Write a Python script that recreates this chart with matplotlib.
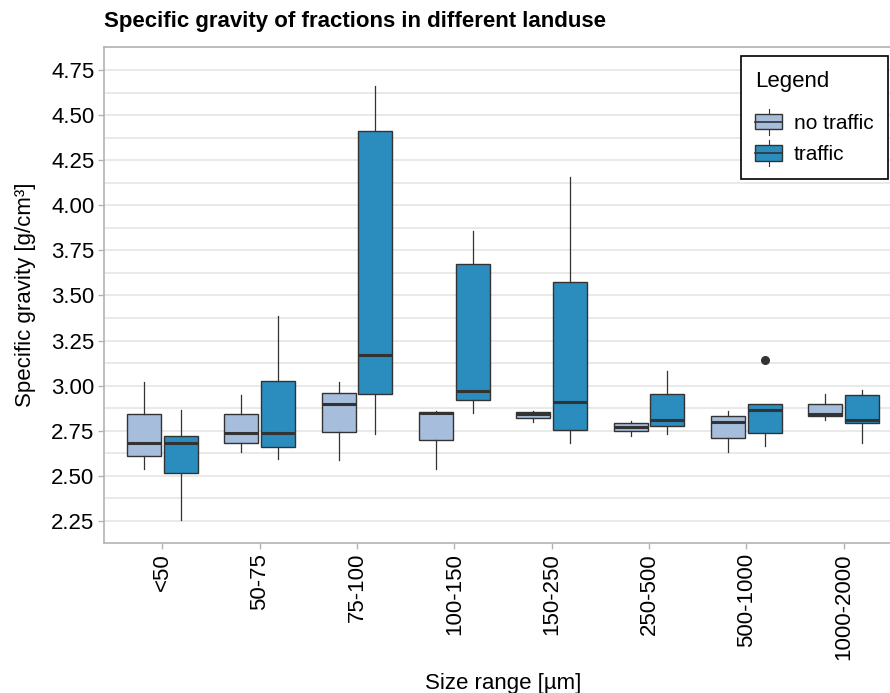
import matplotlib
matplotlib.use("Agg")
import matplotlib.pyplot as plt
from matplotlib.legend_handler import HandlerBase
from matplotlib.patches import Rectangle
from matplotlib.lines import Line2D
import numpy as np

plt.rcParams['font.family'] = ['Liberation Sans', 'DejaVu Sans']

sizes = ["<50", "50-75", "75-100", "100-150", "150-250", "250-500", "500-1000", "1000-2000"]
groups = ["no traffic", "traffic"]
colors = {"no traffic": "#a6bddb", "traffic": "#2b8cbe"}

# whisker low, Q1, median, Q3, whisker high
no_traffic = [
    [2.54, 2.61, 2.68, 2.845, 3.02],
    [2.63, 2.68, 2.735, 2.845, 2.95],
    [2.59, 2.745, 2.90, 2.96, 3.02],
    [2.54, 2.70, 2.847, 2.855, 2.86],
    [2.80, 2.823, 2.843, 2.856, 2.86],
    [2.72, 2.75, 2.768, 2.792, 2.805],
    [2.63, 2.712, 2.80, 2.83, 2.86],
    [2.808, 2.829, 2.845, 2.901, 2.953],
]
traffic = [
    [2.257, 2.515, 2.68, 2.72, 2.867],
    [2.596, 2.659, 2.736, 3.027, 3.387],
    [2.731, 2.956, 3.171, 4.411, 4.663],
    [2.847, 2.919, 2.973, 3.674, 3.858],
    [2.683, 2.753, 2.912, 3.577, 4.158],
    [2.731, 2.775, 2.808, 2.956, 3.082],
    [2.666, 2.735, 2.864, 2.901, 2.901],
    [2.683, 2.792, 2.808, 2.947, 2.977],
]
traffic_outliers = {6: [3.143]}


def make_stats(rows, outliers):
    stats = []
    for i, r in enumerate(rows):
        stats.append(dict(whislo=r[0], q1=r[1], med=r[2], q3=r[3], whishi=r[4],
                          fliers=outliers.get(i, [])))
    return stats


class BoxHandler(HandlerBase):
    # little boxplot glyph for the legend keys
    def create_artists(self, legend, orig_handle, xdescent, ydescent,
                       width, height, fontsize, trans):
        x0 = xdescent
        cx = x0 + width / 2
        y0 = -ydescent
        rect = Rectangle((x0, y0 + height * 0.0), width, height * 1.0,
                         facecolor=orig_handle.get_facecolor(),
                         edgecolor="#333333", lw=1.0, transform=trans)
        med = Line2D([x0, x0 + width], [y0 + height * 0.5] * 2, color="#333333",
                     lw=1.2, transform=trans)
        wh1 = Line2D([cx, cx], [y0 + height * 1.0, y0 + height * 1.35],
                     color="#333333", lw=0.8, transform=trans)
        wh2 = Line2D([cx, cx], [y0, y0 - height * 0.35],
                     color="#333333", lw=0.8, transform=trans)
        return [wh1, wh2, rect, med]


fig = plt.figure(figsize=(8.9, 6.93), dpi=100)
ax = fig.add_axes([104 / 890, 1 - 543.3 / 693, (902 - 104) / 890, (543.3 - 46.7) / 693])

x = np.arange(1, len(sizes) + 1)
box_w = 0.35
offset = 0.1875
for g, rows, outl, sign in [("no traffic", no_traffic, {}, -1), ("traffic", traffic, traffic_outliers, 1)]:
    ax.bxp(make_stats(rows, outl), positions=x + sign * offset, widths=box_w,
           patch_artist=True, showcaps=False, manage_ticks=False,
           boxprops=dict(facecolor=colors[g], edgecolor="#333333", lw=1.0),
           medianprops=dict(color="#333333", lw=2.2, solid_capstyle="butt"),
           whiskerprops=dict(color="#333333", lw=0.9),
           flierprops=dict(marker="o", markerfacecolor="#333333",
                           markeredgecolor="#333333", markersize=5.5))

ax.set_xlim(0.4, 8.6)
ax.set_ylim(2.126, 4.879)
ax.set_xticks(x)
ax.set_xticklabels(sizes, rotation=90, fontsize=16)
ax.set_yticks(np.arange(2.25, 4.76, 0.25))
ax.set_yticklabels([f"{v:.2f}" for v in np.arange(2.25, 4.76, 0.25)], fontsize=16)
ax.set_yticks(np.arange(2.375, 4.876, 0.25), minor=True)
ax.tick_params(axis="y", which="minor", length=0)
ax.tick_params(which="major", length=4, color="#b3b3b3", width=1, pad=3, labelcolor="black")
ax.grid(True, axis="y", which="both", color="#e3e3e3", lw=1.1)
ax.set_axisbelow(True)
for s in ax.spines.values():
    s.set_color("#b3b3b3")
    s.set_linewidth(1.2)

ax.set_xlabel("Size range [µm]", fontsize=16, labelpad=10)
ax.set_ylabel("Specific gravity [g/cm³]", fontsize=16, labelpad=11)
fig.text(104 / 890, 1 - 22 / 693, "Specific gravity of fractions in different landuse",
         fontsize=16, fontweight="bold", va="center", ha="left")

handles = [Rectangle((0, 0), 1, 1, facecolor=colors[g]) for g in groups]
leg = ax.legend(handles, groups, title="Legend", handler_map={Rectangle: BoxHandler()},
                loc="upper right", bbox_to_anchor=(888 / 890, 1 - 56 / 693),
                bbox_transform=fig.transFigure, fontsize=15, title_fontsize=16,
                frameon=True, fancybox=False, edgecolor="black", framealpha=1,
                handlelength=1.3, handleheight=0.75, handletextpad=0.55,
                labelspacing=0.6, borderpad=0.7, borderaxespad=0, alignment="left")
leg.get_frame().set_linewidth(1.2)
leg._legend_box.sep = 16

fig.savefig("out.png", dpi=100)
